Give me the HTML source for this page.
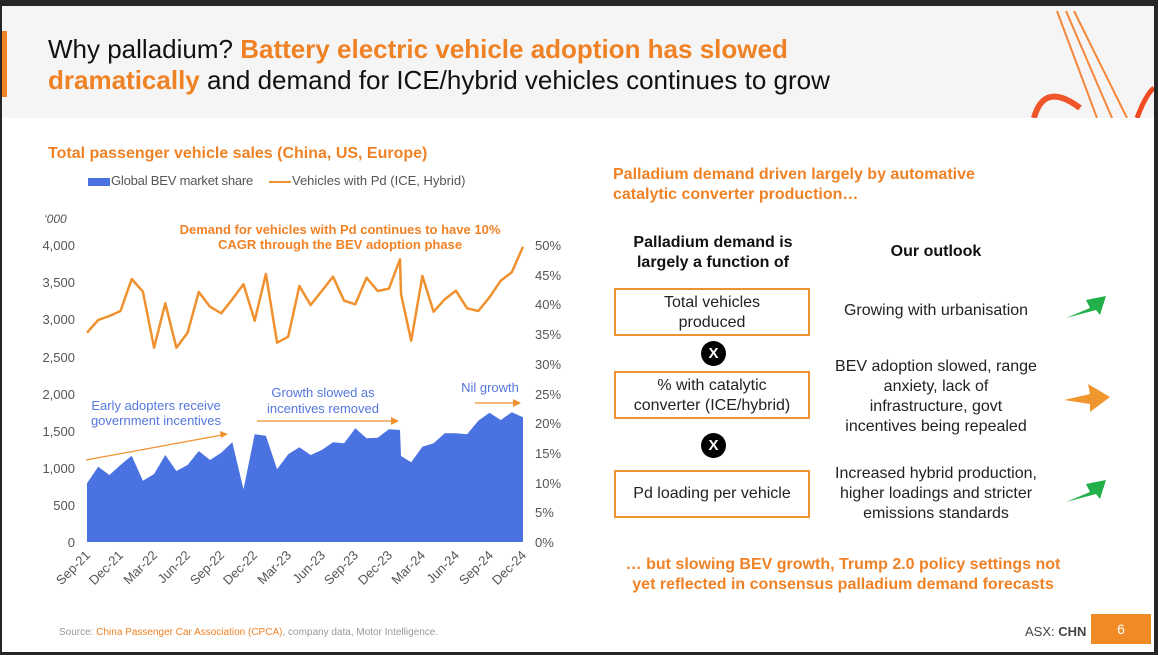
<!DOCTYPE html>
<html><head><meta charset="utf-8"><style>
*{margin:0;padding:0;box-sizing:border-box}
body{width:1158px;height:655px;background:#262626;position:relative;overflow:hidden;font-family:"Liberation Sans",sans-serif}
#pg{position:absolute;left:2px;top:6px;width:1152px;height:646px;background:#fff;overflow:hidden}
.hd{position:absolute;left:0;top:0;width:1152px;height:112px;background:#f5f5f5}
.t{position:absolute;white-space:nowrap}
.or{color:#f08226}
</style></head><body>
<div id="pg">
<div class="hd"></div>
<div style="position:absolute;left:0;top:25px;width:5px;height:66px;background:#f08226"></div>
<div class="t" style="left:46px;top:28px;font-size:26px;line-height:31px;color:#111">Why palladium? <b class="or">Battery electric vehicle adoption has slowed</b><br><b class="or">dramatically</b> and demand for ICE/hybrid vehicles continues to grow</div>
<svg style="position:absolute;left:1020px;top:0" width="132" height="112">
<path d="M35 5 L75 112 M44 5 L90 112 M52 5 L105 112" stroke="#f5883a" stroke-width="2" fill="none"/>
<path d="M12 112 Q22 75 58 102" stroke="#f0562a" stroke-width="6" fill="none"/>
<path d="M115 112 Q124 88 132 82" stroke="#f04a20" stroke-width="5" fill="none"/>
</svg>
</div>
<div class="t or" style="left:48px;top:145px;font-size:16px;font-weight:bold">Total passenger vehicle sales (China, US, Europe)</div>
<div style="position:absolute;left:88px;top:178px;width:22px;height:8px;background:#4a72e0"></div>
<div class="t" style="left:111px;top:173px;font-size:13px;color:#555;letter-spacing:-0.2px">Global BEV market share</div>
<div style="position:absolute;left:269px;top:181px;width:22px;height:2px;background:#f0912f"></div>
<div class="t" style="left:292px;top:173px;font-size:13px;color:#555">Vehicles with Pd (ICE, Hybrid)</div>
<div class="t" style="left:44px;top:212px;font-size:12px;color:#555;font-style:italic">‘000</div>
<svg style="position:absolute;left:0;top:0" width="580" height="600" font-family="Liberation Sans, sans-serif">
<g font-size="13" fill="#555" text-anchor="end">
<text x="75" y="250">4,000</text><text x="75" y="287">3,500</text><text x="75" y="324">3,000</text><text x="75" y="362">2,500</text><text x="75" y="399">2,000</text><text x="75" y="436">1,500</text><text x="75" y="473">1,000</text><text x="75" y="510">500</text><text x="75" y="547">0</text></g>
<g font-size="13" fill="#555"><text x="535" y="250">50%</text><text x="535" y="280">45%</text><text x="535" y="309">40%</text><text x="535" y="339">35%</text><text x="535" y="369">30%</text><text x="535" y="399">25%</text><text x="535" y="428">20%</text><text x="535" y="458">15%</text><text x="535" y="488">10%</text><text x="535" y="517">5%</text><text x="535" y="547">0%</text></g>
<polygon fill="#4a72e0" points="87,542 87,483.3 98.2,466.7 109.4,475 120.5,465 131.7,455.7 142.9,480.7 154.1,474 165.3,455 176.4,471 187.6,465 198.8,451 210,460 221.2,452.7 232.3,442.3 243.5,489.3 254.7,434.3 265.9,435.7 277.1,469.3 288.2,454.3 299.4,447.3 310.6,455 321.8,450 333,442.3 344.1,443.3 355.3,428.3 366.5,438.3 377.7,437.7 388.9,429.3 400,430 401,456 411.2,462.3 422.4,446.7 433.6,443.3 444.8,433.3 455.9,433.3 467.1,434.3 478.3,420.7 489.5,412.7 500.7,420 511.8,412.3 523,417.3 523,542"/>
<polyline fill="none" stroke="#f0912f" stroke-width="2.5" stroke-linejoin="round" points="87,332.7 98.2,320 109.4,316 120.5,311 131.7,279 142.9,291.7 154.1,347.7 165.3,303.3 176.4,347.7 187.6,332.7 198.8,292 210,306.7 221.2,313.3 232.3,299.3 243.5,284.3 254.7,320.7 265.9,274 277.1,342.7 288.2,336.7 299.4,286 310.6,305 321.8,291 333,276.7 344.1,300.7 355.3,304.3 366.5,277.7 377.7,291 388.9,288.7 400,259.3 401,294 411.2,340.7 422.4,276 433.6,311.7 444.8,299.3 455.9,290.7 467.1,308.3 478.3,311 489.5,297.3 500.7,280.7 511.8,272.3 523,246.7"/>
<g font-size="13" fill="#555" text-anchor="end">
<text transform="translate(91,556) rotate(-45)">Sep-21</text><text transform="translate(124,556) rotate(-45)">Dec-21</text><text transform="translate(158,556) rotate(-45)">Mar-22</text><text transform="translate(191,556) rotate(-45)">Jun-22</text><text transform="translate(225,556) rotate(-45)">Sep-22</text><text transform="translate(258,556) rotate(-45)">Dec-22</text><text transform="translate(292,556) rotate(-45)">Mar-23</text><text transform="translate(326,556) rotate(-45)">Jun-23</text><text transform="translate(359,556) rotate(-45)">Sep-23</text><text transform="translate(393,556) rotate(-45)">Dec-23</text><text transform="translate(426,556) rotate(-45)">Mar-24</text><text transform="translate(460,556) rotate(-45)">Jun-24</text><text transform="translate(494,556) rotate(-45)">Sep-24</text><text transform="translate(527,556) rotate(-45)">Dec-24</text></g>
<g font-size="13" font-weight="bold" fill="#f08226" text-anchor="middle"><text x="340" y="234">Demand for vehicles with Pd continues to have 10%</text><text x="340" y="249">CAGR through the BEV adoption phase</text></g>
<g font-size="13" fill="#5577dd" text-anchor="middle"><text x="156" y="410">Early adopters receive</text><text x="156" y="425">government incentives</text><text x="323" y="397">Growth slowed as</text><text x="323" y="413">incentives removed</text><text x="490" y="392">Nil growth</text></g>
<g stroke="#f0912f" stroke-width="1.2" fill="#f0912f">
<line x1="86" y1="460" x2="222" y2="435"/><polygon points="228,434 220,431 221,438" stroke="none"/>
<line x1="257" y1="421" x2="392" y2="421"/><polygon points="399,421 391,417 391,425" stroke="none"/>
<line x1="475" y1="403" x2="514" y2="403"/><polygon points="521,403 513,399 513,407" stroke="none"/></g>
</svg>
<div class="t or" style="left:613px;top:165px;font-size:16px;font-weight:bold;line-height:20px">Palladium demand driven largely by automative<br>catalytic converter production…</div>
<div class="t" style="left:613px;top:233px;width:200px;text-align:center;font-size:16px;font-weight:bold;line-height:20px;color:#111">Palladium demand is<br>largely a function of</div>
<div class="t" style="left:836px;top:243px;width:200px;text-align:center;font-size:16px;font-weight:bold;color:#111">Our outlook</div>
<div style="position:absolute;left:614px;top:288px;width:196px;height:48px;border:2px solid #f0912f;text-align:center;font-size:16px;line-height:20px;padding-top:3px;color:#222">Total vehicles<br>produced</div>
<div style="position:absolute;left:614px;top:371px;width:196px;height:48px;border:2px solid #f0912f;text-align:center;font-size:16px;line-height:20px;padding-top:3px;color:#222">% with catalytic<br>converter (ICE/hybrid)</div>
<div style="position:absolute;left:614px;top:470px;width:196px;height:48px;border:2px solid #f0912f;text-align:center;font-size:16px;line-height:44px;color:#222">Pd loading per vehicle</div>
<div style="position:absolute;left:701px;top:341px;width:25px;height:25px;border-radius:50%;background:#000;color:#fff;font-weight:bold;text-align:center;line-height:25px;font-size:15px">X</div>
<div style="position:absolute;left:701px;top:433px;width:25px;height:25px;border-radius:50%;background:#000;color:#fff;font-weight:bold;text-align:center;line-height:25px;font-size:15px">X</div>
<div class="t" style="left:816px;top:302px;width:240px;text-align:center;font-size:16px;color:#222">Growing with urbanisation</div>
<div class="t" style="left:816px;top:357px;width:240px;text-align:center;font-size:16px;line-height:20px;color:#222">BEV adoption slowed, range<br>anxiety, lack of<br>infrastructure, govt<br>incentives being repealed</div>
<div class="t" style="left:816px;top:464px;width:240px;text-align:center;font-size:16px;line-height:20px;color:#222">Increased hybrid production,<br>higher loadings and stricter<br>emissions standards</div>
<svg style="position:absolute;left:1060px;top:290px" width="50" height="220">
<polygon fill="#22b04a" points="6,28 30,18 26,10 46,6 40,25 36,20"/>
<polygon fill="#f0962f" points="4,110 30,104 28,94 50,107 30,122 30,114"/>
<polygon fill="#22b04a" points="6,212 30,202 26,194 46,190 40,209 36,204"/>
</svg>
<div class="t or" style="left:613px;top:555px;width:460px;text-align:center;font-size:16px;font-weight:bold;line-height:20px">… but slowing BEV growth, Trump 2.0 policy settings not<br>yet reflected in consensus palladium demand forecasts</div>
<div class="t" style="left:59px;top:627px;font-size:10px;color:#999">Source: <span class="or">China Passenger Car Association (CPCA)</span>, company data, Motor Intelligence.</div>
<div class="t" style="left:1025px;top:624px;font-size:13px;color:#444">ASX: <b>CHN</b></div>
<div style="position:absolute;left:1091px;top:614px;width:60px;height:30px;background:#f08a26;color:#fff;font-size:14px;text-align:center;line-height:30px">6</div>
</body></html>
